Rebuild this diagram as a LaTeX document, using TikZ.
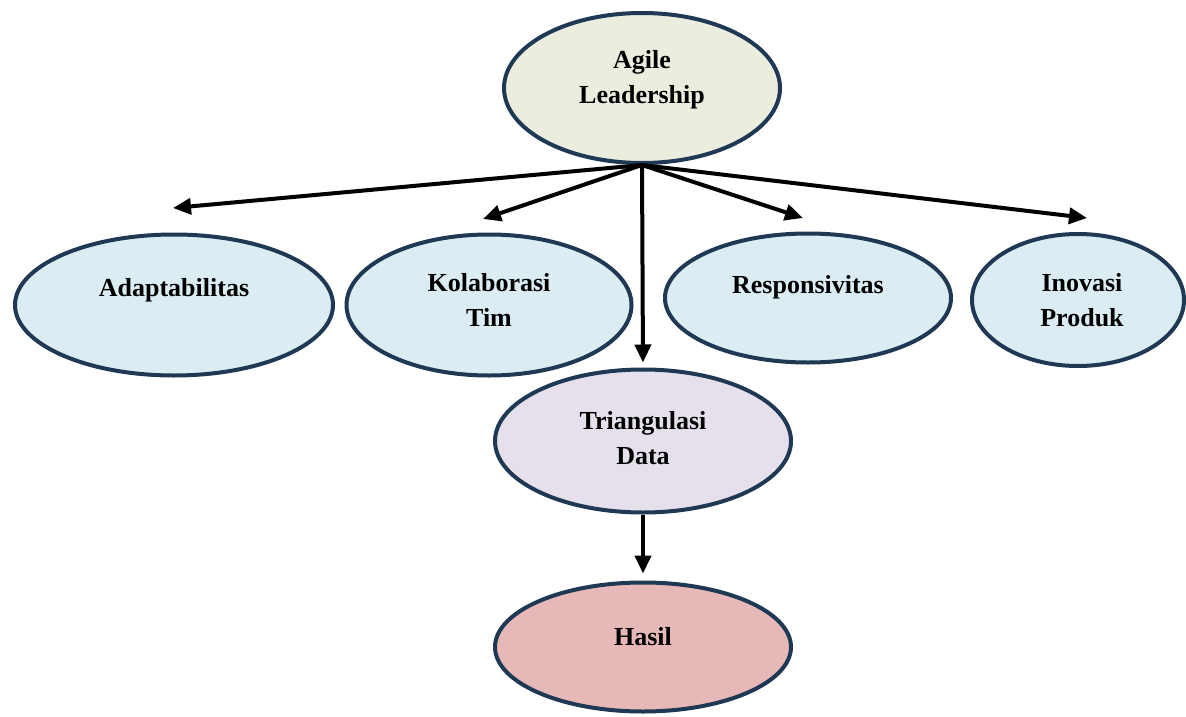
\documentclass[tikz,border=0pt]{standalone}
\usepackage{fontspec}
\setmainfont{Liberation Serif}
\usepackage{tikz}
\usetikzlibrary{arrows.meta,positioning,calc,shapes.geometric}
\usepackage{xcolor}
\definecolor{edge}{HTML}{1F3854}
\definecolor{lead}{HTML}{EBEEDE}
\definecolor{dim}{HTML}{DBEDF3}
\definecolor{tri}{HTML}{E5E0EC}
\definecolor{res}{HTML}{E6B8B7}
\definecolor{ink}{HTML}{000000}

\begin{document}
\begin{tikzpicture}[x=1pt, y=-1pt, >={Triangle[length=18pt,width=16pt]},
  oval/.style={ellipse, draw=edge, line width=4pt, inner sep=0pt},
  lbl/.style={align=center, font=\fontsize{26}{35}\selectfont\bfseries, text=ink},
  link/.style={->, line width=4pt, ink}]
\useasboundingbox (0,0) rectangle (1186,717);
\clip (0,0) rectangle (1186,717);
\node[oval, fill=lead, minimum width=276, minimum height=150] (agile) at (642,88) {};
\node[oval, fill=dim, minimum width=318, minimum height=141] (adapt) at (174,305) {};
\node[oval, fill=dim, minimum width=285, minimum height=141] (kolab) at (489,305) {};
\node[oval, fill=dim, minimum width=286, minimum height=129] (resp) at (808,298) {};
\node[oval, fill=dim, minimum width=212, minimum height=132] (inov) at (1078,300) {};
\node[oval, fill=tri, minimum width=296, minimum height=143] (trian) at (643,441) {};
\node[oval, fill=res, minimum width=296, minimum height=129] (hasil) at (643,647) {};
\node[lbl] (agile-t) at ($(agile)+(0,-8)$) {Agile\\Leadership};
\node[lbl] (adapt-t) at ($(adapt)+(0,-15)$) {Adaptabilitas};
\node[lbl] (kolab-t) at ($(kolab)+(0,-5)$) {Kolaborasi\\Tim};
\node[lbl] (resp-t) at ($(resp)+(0,-11)$) {Responsivitas};
\node[lbl] (inov-t) at ($(inov)+(4,0)$) {Inovasi\\Produk};
\node[lbl] (trian-t) at ($(trian)+(0,-3)$) {Triangulasi\\Data};
\node[lbl] (hasil-t) at ($(hasil)+(0,-10)$) {Hasil};
\coordinate (to-adapt) at (173,208);
\coordinate (to-kolab) at (483,219);
\coordinate (to-resp) at (803,218);
\coordinate (to-inov) at (1087,218);
\draw[link] (agile.south) -- (to-adapt);
\draw[link] (agile.south) -- (to-kolab);
\draw[link] (agile.south) -- (to-resp);
\draw[link] (agile.south) -- (to-inov);
\draw[link, shorten >=5pt] (agile.south) -- (trian.north);
\draw[link, shorten >=7pt] (trian.south) -- (hasil.north);
\end{tikzpicture}
\end{document}
